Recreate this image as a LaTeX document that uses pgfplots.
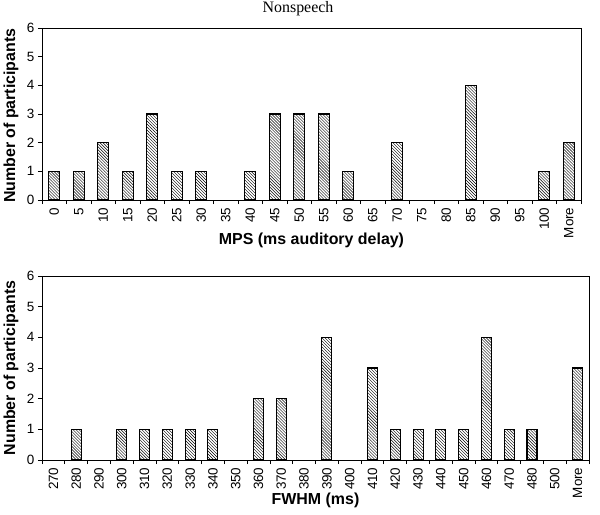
\documentclass[border=0pt]{standalone}
\usepackage{fontspec}
\setmainfont{Liberation Sans}
\newfontfamily\titlefont{Liberation Serif}
\usepackage{pgfplots}
\pgfplotsset{compat=1.18}
\usetikzlibrary{patterns}

\pgfplotsset{
  histo/.style={
    scale only axis,
    ymin=0, ymax=6, ytick={0,...,6},
    tick align=outside, tick pos=left,
    major tick length=4bp, minor tick length=4bp,
    major x tick style={draw=none},
    tick style={black, line width=0.8bp},
    axis line style={line width=1bp},
    /pgf/number format/assume math mode=true,
    tick label style={font=\fontsize{13.5}{14}\selectfont},
    x tick label style={rotate=90, anchor=east},
    label style={font=\bfseries\fontsize{16}{18}\selectfont},
    ylabel={Number of participants},
  },
  bars/.style={ybar, draw=black, line width=1.1bp, fill=white,
    pattern=north west lines, pattern color=black},
}

\begin{document}
\begin{tikzpicture}
\useasboundingbox (0bp,0bp) rectangle (600bp,-515bp);

% top: MPS
\begin{axis}[histo,
  at={(42bp,-200bp)}, anchor=south west,
  width=539bp, height=172bp,
  xmin=-0.5, xmax=21.5,
  bar width=11bp,
  xtick={0,...,21},
  xticklabels={0,5,10,15,20,25,30,35,40,45,50,55,60,65,70,75,80,85,90,95,100,More},
  minor xtick={-0.5,0.5,...,21.5},
  xlabel={MPS (ms auditory delay)},
  xlabel style={at={(axis description cs:0.5,-0.233)}, anchor=center},
  ylabel style={at={(axis description cs:-0.0575,0.49)}, anchor=center},
  title={\titlefont Nonspeech},
  title style={at={(axis description cs:0.475,1.076)}, anchor=center, font=\fontsize{16}{18}\selectfont},
]
\addplot[bars] coordinates {
(0,1) (1,1) (2,2) (3,1) (4,3) (5,1) (6,1) (8,1) (9,3) (10,3)
(11,3) (12,1) (14,2) (17,4) (20,1) (21,2)
};
\end{axis}

% bottom: FWHM
\begin{axis}[histo,
  at={(42bp,-460bp)}, anchor=south west,
  width=547bp, height=184bp,
  xmin=-0.5, xmax=23.5,
  bar width=10bp,
  xtick={0,...,23},
  xticklabels={270,280,290,300,310,320,330,340,350,360,370,380,390,400,410,420,430,440,450,460,470,480,500,More},
  minor xtick={-0.5,0.5,...,23.5},
  xlabel={FWHM (ms)},
  xlabel style={at={(axis description cs:0.5,-0.217)}, anchor=center},
  ylabel style={at={(axis description cs:-0.0567,0.5)}, anchor=center},
]
\addplot[bars] coordinates {
(1,1) (3,1) (4,1) (5,1) (6,1) (7,1) (9,2) (10,2) (12,4) (14,3)
(15,1) (16,1) (17,1) (18,1) (19,4) (20,1) (21,1) (23,3)
};
\end{axis}
\end{tikzpicture}
\end{document}
